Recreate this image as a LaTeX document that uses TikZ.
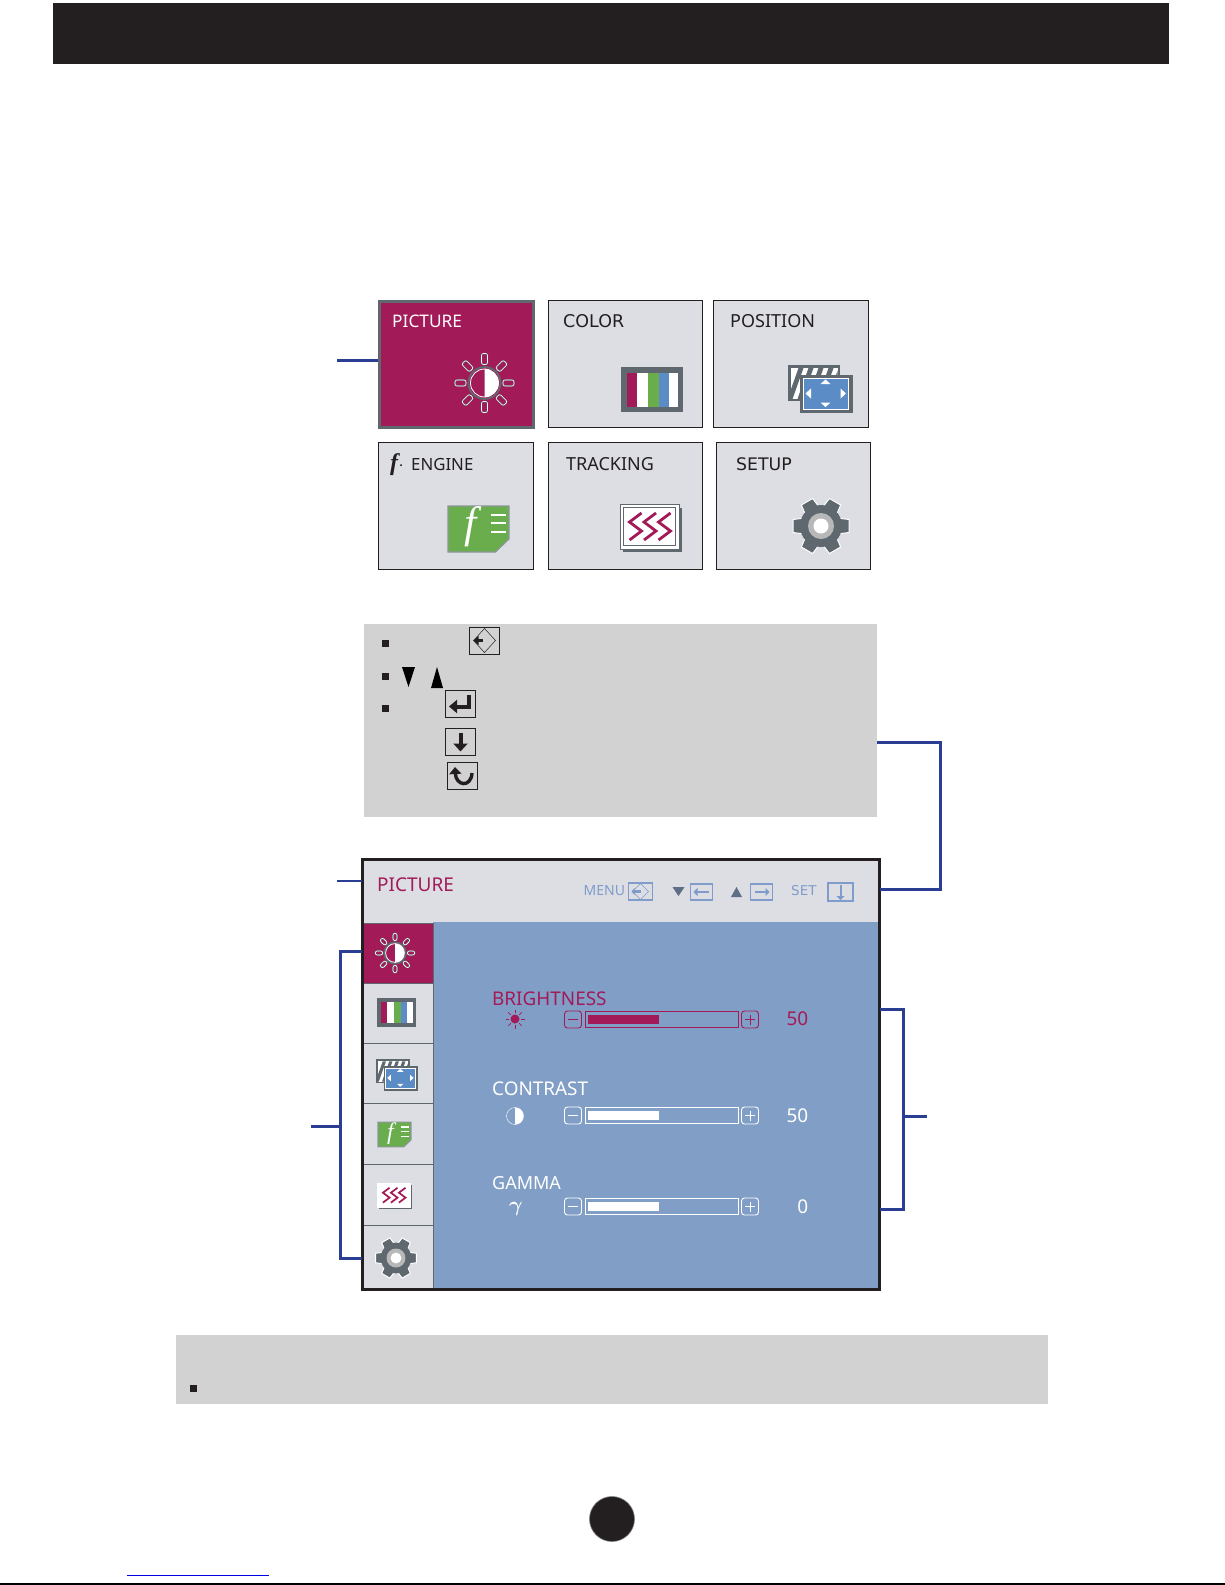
\documentclass[tikz,border=0pt]{standalone}
\usepackage{fontspec}
\setmainfont{Noto Sans}
\newfontfamily\widefont{DejaVu Sans}
\newfontfamily\bookfont{Liberation Serif}
\usetikzlibrary{arrows.meta}
\definecolor{barblack}{HTML}{231F20}
\definecolor{plum}{HTML}{A31A59}
\definecolor{tilegray}{HTML}{DCDEE4}
\definecolor{slate}{HTML}{5E686E}
\definecolor{osdblue}{HTML}{819FC6}
\definecolor{keyblue}{HTML}{7F9CCB}
\definecolor{panelgray}{HTML}{D2D2D2}
\definecolor{wireblue}{HTML}{2A3F94}
\definecolor{leafgreen}{HTML}{69AD4D}
\definecolor{stripeblue}{HTML}{5B8CC6}
\tikzstyle{tile} = [draw=barblack, fill=tilegray, line width=1.1pt, inner sep=0mm, minimum height=126.5pt]
\tikzstyle{cell} = [draw=slate, fill=tilegray, line width=.8pt, inner sep=0mm, minimum width=70pt]
\tikzstyle{title} = [inner sep=0mm, anchor=base west, text=barblack, font=\fontsize{18}{18}\selectfont]
\tikzstyle{wire} = [wireblue, line width=3pt]
\tikzstyle{bullet} = [fill=barblack, inner sep=0mm, minimum size=7pt]
\tikzstyle{keycap} = [draw=barblack, line width=.9pt, inner sep=0mm, minimum width=30pt, minimum height=27pt]
\tikzstyle{minikey} = [draw=keyblue, line width=1.2pt, inner sep=0mm, minimum width=22pt, minimum height=16pt]
\tikzstyle{osdtext} = [inner sep=0mm, anchor=base west]
\tikzstyle{btn} = [draw, rounded corners=3pt, line width=.9pt, inner sep=0mm, minimum width=17pt, minimum height=17pt]
\tikzstyle{track} = [draw, line width=1pt, inner sep=0mm, minimum width=153pt, minimum height=16pt]
\newcommand{\sunicon}[3]{
    \begin{scope}[shift={(#1,#2)}, scale=#3]
        \foreach \a in {0, 45, ..., 315} {
            \draw[rotate=\a, draw=slate, line width=1.4pt, rounded corners=2pt] (18.5, -3) rectangle (29.5, 3);
            \draw[rotate=\a, draw=white, line width=.6pt, rounded corners=2pt] (18.5, -3) rectangle (29.5, 3);
        }
        \draw[slate, fill=plum, line width=1.8pt] (0, 0) circle (16);
        \draw[white, fill=plum, line width=.8pt] (0, 0) circle (14);
        \fill[white] (0, -14) arc[start angle=-90, end angle=90, radius=14] -- cycle;
    \end{scope}
}
\newcommand{\barsicon}[3]{
    \begin{scope}[shift={(#1,#2)}, scale=#3]
        \fill[slate] (-31, -22.5) rectangle (31, 22.5);
        \fill[plum] (-25, -17) rectangle (-15, 17);
        \fill[white] (-15, -17) rectangle (-4, 17);
        \fill[leafgreen] (-4, -17) rectangle (6.5, 17);
        \fill[stripeblue] (6.5, -17) rectangle (16.5, 17);
        \fill[white] (16.5, -17) rectangle (26, 17);
    \end{scope}
}
\newcommand{\moveicon}[3]{
    \begin{scope}[shift={(#1,#2)}, scale=#3]
        \fill[slate] (-32.5, -24) rectangle (19.5, 12);
        \fill[white] (-30, -21) rectangle (17, 10);
        \begin{scope}
            \clip (-30, -21) rectangle (17, 10);
            \foreach \k in {0, ..., 4} {
                \fill[slate] (-22+\k*10, -21) -- (-17+\k*10, -21) -- (-28+\k*10, 10) -- (-33+\k*10, 10) -- cycle;
            }
        \end{scope}
        \fill[slate] (-20.5, -14) rectangle (32.5, 24);
        \draw[white, fill=stripeblue, line width=.5pt] (-17.5, -11) rectangle (28, 20);
        \fill[white] (5, -9.5) -- (10, -5) -- (0, -5) -- cycle;
        \fill[white] (5, 18) -- (10, 13.5) -- (0, 13.5) -- cycle;
        \fill[white] (-15, 4.5) -- (-9.5, -.5) -- (-9.5, 9.5) -- cycle;
        \fill[white] (25.5, 4.5) -- (20, -.5) -- (20, 9.5) -- cycle;
    \end{scope}
}
\newcommand{\engineicon}[3]{
    \begin{scope}[shift={(#1,#2)}, scale=#3]
        \draw[slate!70, fill=leafgreen, line width=1.1pt] (-30.5, -23) -- (30.5, -23) -- (30.5, 10) -- (17, 23) -- (-30.5, 23) -- cycle;
        \foreach \y in {-14, -6, 3} {
            \draw[white, line width=1.2pt] (12.5, \y) -- (27, \y);
        }
        \pgfmathsetmacro{\fsize}{44*#3}
        \node[inner sep=0mm, text=white] (fglyph) at (-7.5, -2) {\bookfont\itshape\fontsize{\fsize}{\fsize}\selectfont f};
    \end{scope}
}
\newcommand{\trackicon}[4]{
    \begin{scope}[shift={(#1,#2)}, scale=#3]
        \fill[slate] (-28, -20) rectangle (31, 24);
        \draw[#4, fill=white, line width=.6pt] (-30.5, -24) rectangle (28.5, 21);
        \draw[#4, line width=.5pt] (-27, -21) rectangle (25, 17.5);
        \foreach \k in {-14.5, 0, 14.5} {
            \draw[plum, line width={2.4pt*#3+.4pt}] (\k+5.5, -15) -- (\k-6.5, -6) -- (\k+5.5, 3) -- (\k-6.5, 12);
        }
    \end{scope}
}
\newcommand{\gearicon}[3]{
    \begin{scope}[shift={(#1,#2)}, scale=#3]
        \foreach \a in {0, 60, ..., 300} {
            \draw[rotate=\a, draw=white, fill=slate, line width=1pt] (16, -8) -- (28, -6.5) -- (28, 6.5) -- (16, 8) -- cycle;
        }
        \fill[slate] (0, 0) circle (21);
        \fill[black!28] (0, 0) circle (13);
        \fill[white] (0, 0) circle (7.5);
    \end{scope}
}
\begin{document}
\begin{tikzpicture}[x=1pt, y=-1pt]
    \useasboundingbox (0, 0) rectangle (1225, 1585);
    \node[fill=barblack, inner sep=0mm, minimum width=1116pt, minimum height=61pt] (topbar) at (611, 33.5) {};

    % menu tiles
    \node[tile, draw=slate, fill=plum, line width=2.6pt, minimum width=154pt, minimum height=126pt] (tilepicture) at (456.5, 364.5) {};
    \foreach \n/\x/\y/\w in {color/625.5/364/154, position/791/364/155, engine/456/506/154.5, tracking/625.5/506/154, setup/793.5/506/154} {
        \node[tile, minimum width=\w pt] (tile\n) at (\x, \y) {};
    }
    \node[title, text=white, font=\fontsize{17.3}{18}\selectfont] (lblpicture) at (392, 327) {PICTURE};
    \node[title, font=\widefont\fontsize{17.5}{18}\selectfont] (lblcolor) at (563, 327) {COLOR};
    \node[title] (lblposition) at (730, 327) {POSITION};
    \node[title, font=\fontsize{16.8}{18}\selectfont] (lblengine) at (411, 470) {ENGINE};
    \node[title] (lbltracking) at (566, 470) {TRACKING};
    \node[title, font=\widefont\fontsize{17.3}{18}\selectfont] (lblsetup) at (736, 470) {SETUP};
    \node[title, font=\bookfont\bfseries\itshape\fontsize{24}{24}\selectfont] (lblf) at (390, 470) {f\kern2pt\raisebox{4pt}{\fontsize{12}{12}\selectfont .}};

    \sunicon{484.5}{383}{1}
    \barsicon{652}{389.5}{1}
    \moveicon{820.5}{389}{1}
    \engineicon{478.5}{529}{1}
    \trackicon{650.5}{528}{1}{slate}
    \gearicon{821}{526}{1}

    \coordinate (tilestub) at (337, 360);
    \draw[wire] (tilestub) -- (tilestub -| tilepicture.west);

    % key panel
    \node[fill=panelgray, inner sep=0mm, minimum width=513pt, minimum height=193pt] (keypanel) at (620.5, 720.5) {};
    \foreach \i/\y in {a/643, b/676, c/708} {
        \node[bullet] (bullet\i) at (385.5, \y) {};
    }
    \node[keycap] (keymenu) at (484.5, 640.5) {};
    \draw[barblack, line width=.5pt] (keymenu.center) ++(0, -12) -- ++(11, 12) -- ++(-11, 12) -- ++(-11, -12) -- cycle;
    \draw[barblack, line width=3.6pt, -{Triangle[length=5pt, width=9pt]}] ([xshift=-2pt]keymenu.center) -- ([xshift=-11pt]keymenu.center);
    \fill[black] (402, 667) -- (415, 667) -- (408.5, 687) -- cycle;
    \fill[black] (431, 688) -- (443, 688) -- (437, 667) -- cycle;
    \node[keycap] (keyenter) at (460, 703.5) {};
    \draw[barblack, line width=4pt, -{Triangle[length=8pt, width=13pt]}] ([xshift=9pt, yshift=9pt]keyenter.center) |- ([xshift=-11pt, yshift=-3pt]keyenter.center);
    \node[keycap] (keydown) at (460.5, 741.5) {};
    \draw[barblack, line width=4pt, -{Triangle[length=8pt, width=14pt]}] ([yshift=9pt]keydown.center) -- ([yshift=-10pt]keydown.center);
    \node[keycap] (keyreturn) at (462, 776) {};
    \draw[barblack, line width=3.4pt, -{Triangle[length=7pt, width=12pt]}] ([xshift=10pt, yshift=3pt]keyreturn.center) .. controls ([xshift=9pt, yshift=-12pt]keyreturn.center) and ([xshift=-6pt, yshift=-10pt]keyreturn.center) .. ([xshift=-7pt, yshift=9pt]keyreturn.center);

    % osd window
    \node[fill=tilegray, inner sep=0mm, minimum width=517pt, minimum height=430pt] (osd) at (621, 1074.5) {};
    \node[fill=osdblue, inner sep=0mm, minimum width=447pt, minimum height=367pt] (osdbody) at (656.5, 1105.5) {};
    \node[cell, fill=plum, minimum height=60pt] (cella) at (398, 953) {};
    \foreach \i/\y/\h in {b/1013/60, c/1073/60, d/1133.5/61, e/1195/61, f/1257/63} {
        \node[cell, minimum height=\h pt] (cell\i) at (398, \y) {};
    }
    \draw[barblack, line width=2.8pt] (osd.south west) rectangle (osd.north east);
    \sunicon{395}{953}{.67}
    \barsicon{396.5}{1012.5}{.63}
    \moveicon{397}{1075}{.65}
    \engineicon{394.5}{1134.5}{.54}
    \trackicon{394.5}{1196}{.55}{white}
    \gearicon{396}{1258}{.73}

    \node[osdtext, text=plum, font=\fontsize{19}{20}\selectfont] (lblosd) at (377, 891) {PICTURE};
    \node[osdtext, text=keyblue, font=\fontsize{14}{14}\selectfont] (lblmenu) at (583.5, 895) {MENU};
    \node[osdtext, text=keyblue, font=\widefont\fontsize{13.5}{14}\selectfont] (lblset) at (791, 895) {SET};
    \node[minikey, minimum width=24pt, minimum height=17pt] (minimenu) at (640.5, 891.5) {};
    \draw[keyblue, line width=.5pt] (minimenu.center) ++(0, -8) -- ++(8, 8) -- ++(-8, 8) -- ++(-8, -8) -- cycle;
    \draw[keyblue, line width=2.4pt, -{Triangle[length=3pt, width=6.5pt]}] (minimenu.center) -- ([xshift=-9pt]minimenu.center);
    \node[minikey] (minileft) at (701.5, 892) {};
    \draw[keyblue, line width=2.4pt, -{Triangle[length=4pt, width=8pt]}] ([xshift=7pt]minileft.center) -- ([xshift=-8pt]minileft.center);
    \node[minikey] (miniright) at (761.5, 892) {};
    \draw[keyblue, line width=2.4pt, -{Triangle[length=4pt, width=8pt]}] ([xshift=-7pt]miniright.center) -- ([xshift=8pt]miniright.center);
    \node[minikey, minimum width=25pt, minimum height=18pt] (minidown) at (840.5, 892) {};
    \draw[keyblue, line width=2pt, -{Triangle[length=4pt, width=8pt]}] ([yshift=7pt]minidown.center) -- ([yshift=-8pt]minidown.center);
    \fill[keyblue!60!black!90] (672.5, 887) -- (684.5, 887) -- (678.5, 896) -- cycle;
    \fill[keyblue!60!black!90] (731, 897) -- (742, 897) -- (736.5, 887) -- cycle;

    % sliders
    \foreach \n/\txt/\c/\base/\y/\v/\vbase/\fs in {bright/BRIGHTNESS/plum/1005/1019.5/50/1025/18.9, contrast/CONTRAST/white/1095/1115.5/50/1122/18.9, gamma/GAMMA/white/1189/1206.5/0/1213/18} {
        \node[osdtext, text=\c, font=\fontsize{\fs}{20}\selectfont] (lbl\n) at (492, \base) {\txt};
        \node[btn, draw=\c] (minus\n) at (573, \y) {};
        \draw[\c, line width=.8pt] ([xshift=-5pt]minus\n.center) -- ([xshift=5pt]minus\n.center);
        \node[track, draw=\c] (track\n) at (661.5, \y) {};
        \fill[\c] (588, \y-4.5) rectangle (659, \y+4.5);
        \node[btn, draw=\c] (plus\n) at (750, \y) {};
        \draw[\c, line width=.8pt] ([xshift=-5pt]plus\n.center) -- ([xshift=5pt]plus\n.center);
        \draw[\c, line width=.8pt] ([yshift=-5pt]plus\n.center) -- ([yshift=5pt]plus\n.center);
        \node[osdtext, anchor=base east, text=\c, font=\fontsize{19}{20}\selectfont] (val\n) at (808.5, \vbase) {\v};
    }
    \fill[plum] (515, 1019) circle (4.5);
    \foreach \a in {0, 45, ..., 315} {
        \draw[plum, line width=.7pt, rotate around={\a:(515, 1019)}] (521, 1019) -- (524.5, 1019);
    }
    \draw[white, line width=.4pt] (515, 1116) circle (8.5);
    \fill[white] (515, 1107.5) arc[start angle=-90, end angle=90, radius=8.5] -- cycle;
    \node[inner sep=0mm, text=white, font=\fontsize{20}{20}\selectfont\boldmath] (gammasign) at (516, 1209) {$\gamma$};

    % connectors
    \coordinate (panelturn) at (940.5, 742);
    \draw[wire] (keypanel.east |- panelturn) -- (panelturn) -- (panelturn |- 0, 889) -- (osd.east |- 0, 889);
    \coordinate (headstub) at (337, 881);
    \draw[wireblue, line width=1.4pt] (headstub) -- (headstub -| osd.west);
    \coordinate (sidestub) at (311, 1126);
    \draw[wire] (osd.west |- 0, 951) -- (340, 951) -- (340, 1258) -- (osd.west |- 0, 1258);
    \draw[wire] (sidestub) -- (340, 1126);
    \coordinate (rightstub) at (927, 1116);
    \draw[wire] (osd.east |- 0, 1009) -- (903, 1009) -- (903, 1209) -- (osd.east |- 0, 1209);
    \draw[wire] (903, 1116) -- (rightstub);

    % footer
    \node[fill=panelgray, inner sep=0mm, minimum width=872pt, minimum height=69pt] (notepanel) at (612, 1369.5) {};
    \node[bullet] (bulletd) at (193, 1388) {};
    \node[circle, fill=barblack, draw=black!50, line width=.6pt, inner sep=0mm, minimum size=45pt] (pagedot) at (612, 1519) {};
    \coordinate (linka) at (127, 1575);
    \coordinate (linkb) at (269, 1575);
    \draw[blue!90!black, line width=1pt] (linka) -- (linkb);
    \coordinate (rulea) at (0, 1584);
    \coordinate (ruleb) at (1225, 1584);
    \draw[black, line width=1.4pt] (rulea) -- (ruleb);
\end{tikzpicture}
\end{document}
